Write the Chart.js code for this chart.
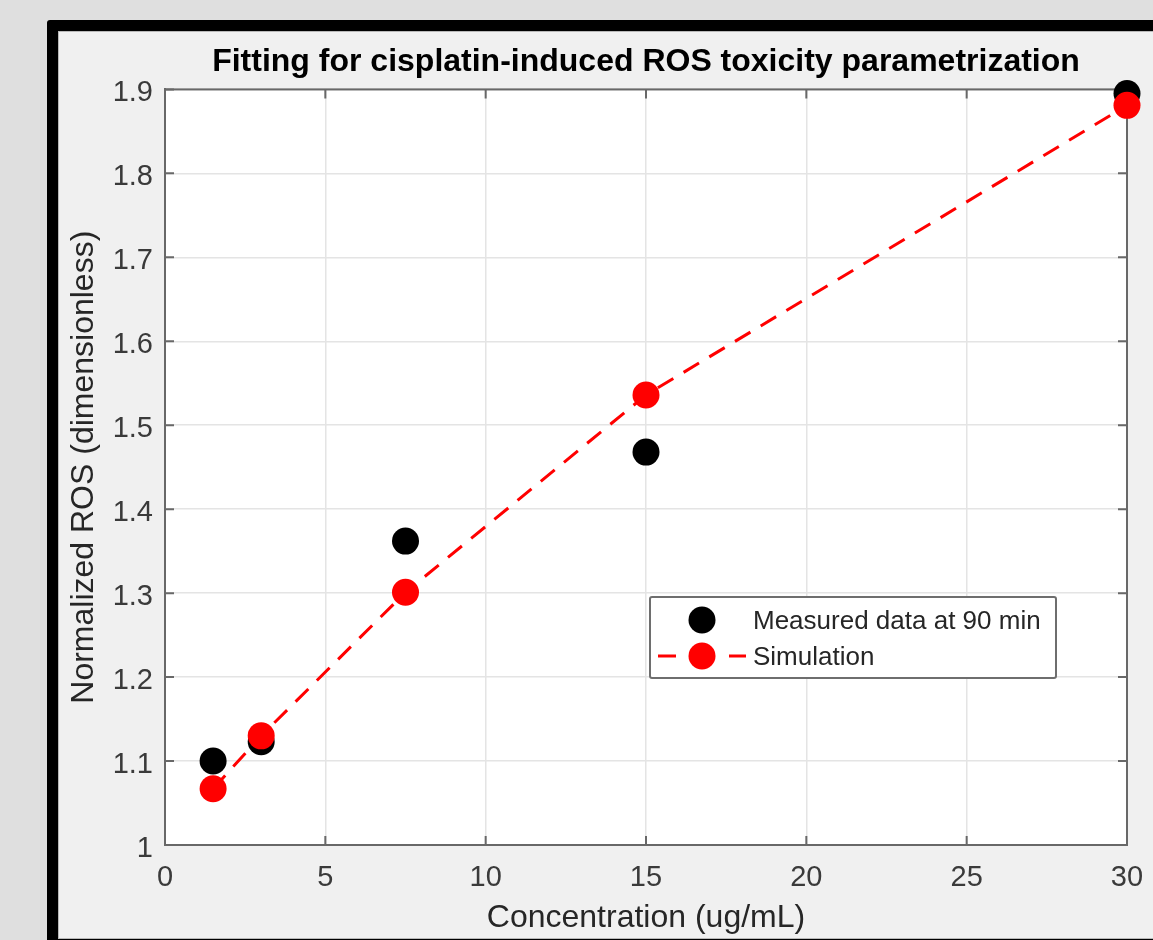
<!DOCTYPE html>
<html>
<head>
<meta charset="utf-8">
<script src="https://cdn.jsdelivr.net/npm/chart.js@4/dist/chart.umd.min.js"></script>
<style>
html, body { margin: 0; padding: 0; }
body { width: 1153px; height: 940px; background: #dfdfdf; position: relative; overflow: hidden; }
#frame { position: absolute; left: 47px; top: 20px; width: 1200px; height: 908px; border: 11px solid #000; border-radius: 3px; background: #f0f0f0; box-shadow: inset 0 0 0 1px #b8b8b8; }
#rosChart { position: absolute; left: 0; top: 0; }
</style>
</head>
<body>
<div id="frame"></div>
<canvas id="rosChart" width="1153" height="940"></canvas>
<script>
// data
const concentrations = [1.5, 3, 7.5, 15, 30];
const measuredRos = [1.100, 1.123, 1.362, 1.468, 1.895];
const simulatedRos = [1.067, 1.130, 1.301, 1.536, 1.881];

const xTicks = [0, 5, 10, 15, 20, 25, 30];
const yTicks = [1, 1.1, 1.2, 1.3, 1.4, 1.5, 1.6, 1.7, 1.8, 1.9];
const yTickLabels = ['1', '1.1', '1.2', '1.3', '1.4', '1.5', '1.6', '1.7', '1.8', '1.9'];

const seriesNames = ['Measured data at 90 min', 'Simulation'];

const FONT = '"Liberation Sans", Arial, Helvetica, sans-serif';
const AXIS_COLOR = '#686868';

const toPoints = (xs, ys) => xs.map((x, i) => ({ x: x, y: ys[i] }));

// white plot background, then MATLAB style box with inward ticks
const boxPlugin = {
    id: 'matlabBox',
    beforeDraw: (chart) => {
        const { ctx, chartArea: a } = chart;
        ctx.save();
        ctx.fillStyle = '#fff';
        ctx.fillRect(a.left, a.top, a.right - a.left, a.bottom - a.top);
        ctx.restore();
    },
    beforeDatasetsDraw: (chart) => {
        const { ctx, chartArea: a, scales } = chart;
        const len = 9;
        ctx.save();
        ctx.strokeStyle = AXIS_COLOR;
        ctx.lineWidth = 2;
        ctx.strokeRect(a.left, a.top, a.right - a.left, a.bottom - a.top);
        ctx.beginPath();
        xTicks.forEach(v => {
            const px = scales.x.getPixelForValue(v);
            ctx.moveTo(px, a.bottom); ctx.lineTo(px, a.bottom - len);
            ctx.moveTo(px, a.top); ctx.lineTo(px, a.top + len);
        });
        yTicks.forEach(v => {
            const py = scales.y.getPixelForValue(v);
            ctx.moveTo(a.left, py); ctx.lineTo(a.left + len, py);
            ctx.moveTo(a.right, py); ctx.lineTo(a.right - len, py);
        });
        ctx.stroke();
        ctx.restore();
    }
};

// legend box inside the axes, lower right
const legendPlugin = {
    id: 'matlabLegend',
    afterDraw: (chart) => {
        const { ctx } = chart;
        const sets = chart.data.datasets;
        const bx = 650, by = 597, bw = 406, bh = 81;
        const mx = 702, tx = 753;
        const rows = [620, 656];
        ctx.save();
        ctx.fillStyle = '#fff';
        ctx.strokeStyle = '#6e6e6e';
        ctx.lineWidth = 2;
        ctx.beginPath();
        ctx.roundRect(bx, by, bw, bh, 2);
        ctx.fill();
        ctx.stroke();

        // simulation line sample
        ctx.strokeStyle = sets[1].borderColor;
        ctx.lineWidth = 3;
        ctx.beginPath();
        ctx.moveTo(658, rows[1]); ctx.lineTo(676, rows[1]);
        ctx.moveTo(729, rows[1]); ctx.lineTo(746, rows[1]);
        ctx.stroke();

        [sets[0], sets[1]].forEach((ds, i) => {
            ctx.fillStyle = ds.pointBackgroundColor;
            ctx.beginPath();
            ctx.arc(mx, rows[i], 13.5, 0, Math.PI * 2);
            ctx.fill();
        });

        ctx.fillStyle = '#262626';
        ctx.font = '26px ' + FONT;
        ctx.textBaseline = 'middle';
        ctx.textAlign = 'left';
        ctx.fillText(seriesNames[0], tx, rows[0] + 2);
        ctx.fillText(seriesNames[1], tx, rows[1] + 2);
        ctx.restore();
    }
};

const rosChartElm = document.getElementById('rosChart');

const rosChartData = {
    datasets: [{
        label: seriesNames[0],
        data: toPoints(concentrations, measuredRos),
        showLine: false,
        pointRadius: 13.5,
        pointBorderWidth: 0,
        pointBackgroundColor: '#000',
        borderColor: '#000',
        clip: false,
        order: 2
    }, {
        label: seriesNames[1],
        data: toPoints(concentrations, simulatedRos),
        showLine: true,
        borderColor: '#ff0000',
        borderWidth: 3,
        borderDash: [18, 12],
        pointRadius: 13.5,
        pointBorderWidth: 0,
        pointBackgroundColor: '#ff0000',
        clip: false,
        order: 1
    }]
};

const rosChartConfig = {
    type: 'scatter',
    data: rosChartData,
    options: {
        responsive: false,
        animation: false,
        events: [],
        layout: {
            padding: { top: 0, right: 26, bottom: 0, left: 0 }
        },
        plugins: {
            legend: { display: false },
            tooltip: { enabled: false },
            title: {
                display: true,
                text: 'Fitting for cisplatin-induced ROS toxicity parametrization',
                fullSize: false,
                color: '#000',
                font: { family: FONT, size: 32, weight: 'bold', lineHeight: 1.2 },
                padding: { top: 43, bottom: 8 }
            }
        },
        scales: {
            x: {
                type: 'linear',
                min: 0,
                max: 30,
                afterBuildTicks: (scale) => { scale.ticks = xTicks.map(v => ({ value: v })); },
                afterFit: (scale) => {
                    scale.height = 95;
                    scale.paddingRight = 0;
                    scale.paddingLeft = 0;
                },
                ticks: {
                    color: '#3a3a3a',
                    padding: 16,
                    maxRotation: 0,
                    font: { family: FONT, size: 29 },
                    callback: (v) => String(v)
                },
                grid: { color: '#e4e4e4', lineWidth: 1.5, drawTicks: false },
                border: { display: true, color: AXIS_COLOR, width: 2 },
                title: {
                    display: true,
                    text: 'Concentration (ug/mL)',
                    color: '#262626',
                    font: { family: FONT, size: 32, lineHeight: 1.2 },
                    padding: { top: 0, bottom: 3 }
                }
            },
            y: {
                type: 'linear',
                min: 1,
                max: 1.9,
                afterBuildTicks: (scale) => { scale.ticks = yTicks.map(v => ({ value: v })); },
                afterFit: (scale) => { scale.width = 165; },
                ticks: {
                    color: '#3a3a3a',
                    padding: 12,
                    labelOffset: 4,
                    font: { family: FONT, size: 29 },
                    callback: (v, i) => yTickLabels[i]
                },
                grid: { color: '#e4e4e4', lineWidth: 1.5, drawTicks: false },
                border: { display: true, color: AXIS_COLOR, width: 2 },
                title: {
                    display: true,
                    text: 'Normalized ROS (dimensionless)',
                    color: '#262626',
                    font: { family: FONT, size: 32, lineHeight: 1.2 },
                    padding: { top: 65, bottom: 0 }
                }
            }
        }
    },
    plugins: [boxPlugin, legendPlugin]
};

const rosChart = new Chart(rosChartElm, rosChartConfig);
</script>
</body>
</html>
